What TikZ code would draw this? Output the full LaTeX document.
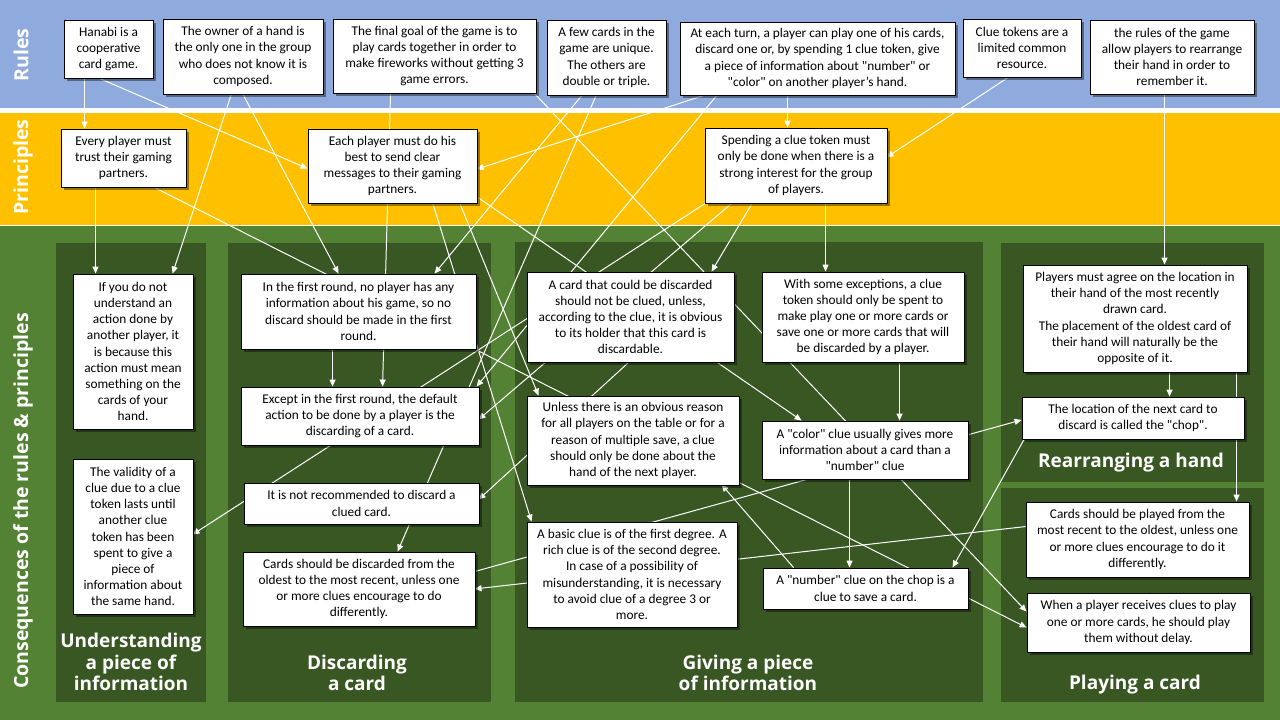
\documentclass[tikz,border=0pt]{standalone}
\usepackage{fontspec}
\setmainfont{Carlito}
\newfontfamily\headfont{Open Sans}
\usetikzlibrary{arrows.meta,shadows,calc}
\pgfdeclarelayer{bg}
\pgfdeclarelayer{links}
\pgfsetlayers{bg,links,main}
\definecolor{rulesblue}{HTML}{8FAADC}
\definecolor{princgold}{HTML}{FFC000}
\definecolor{consgreen}{HTML}{548235}
\definecolor{paneldark}{HTML}{385723}
\newcommand\dq{\textquotedbl}
\begin{document}
\begin{tikzpicture}[x=1pt,y=-1pt,
  box/.style={draw=black, line width=0.9pt, fill=white, align=center, inner sep=2pt,
    font=\fontsize{13.33}{16.2}\selectfont,
    drop shadow={shadow xshift=2.5pt, shadow yshift=-2.5pt, opacity=0.4, fill=black}},
  conn/.style={draw=white, line width=1pt, -{Triangle[length=7pt,width=6pt]}},
  head/.style={text=white, align=center, inner sep=0pt, font=\headfont\bfseries\fontsize{19}{21.5}\selectfont},
  side/.style={text=white, rotate=90, inner sep=0pt, font=\headfont\bfseries\fontsize{19.5}{22}\selectfont},
  panel/.style={fill=paneldark}
]
\useasboundingbox (0,0) rectangle (1280,720);
\begin{pgfonlayer}{bg}
  \fill[rulesblue] (0,0) rectangle (1280,108);
  \fill[white] (0,108) rectangle (1280,113);
  \fill[princgold] (0,113) rectangle (1280,225);
  \fill[white] (0,225) rectangle (1280,226);
  \fill[consgreen] (0,226) rectangle (1280,720);
  \fill[panel] (56,243) rectangle (206,702);
  \fill[panel] (228,243) rectangle (491,702);
  \fill[panel] (515,242) rectangle (983,702);
  \fill[panel] (1001,243) rectangle (1264,482);
  \fill[panel] (1001,488) rectangle (1264,702);
\end{pgfonlayer}

% side labels
\node[side] (Lrules) at (21,55) {Rules};
\node[side] (Lprinc) at (23,167) {Principles};
\node[side] (Lcons) at (23,501) {Consequences of the rules \& principles};

% panel titles
\node[head] (T1) at (131,662) {Understanding\\a piece of\\information};
\node[head] (T2) at (357,673) {Discarding\\a card};
\node[head] (T3) at (748,673) {Giving a piece\\of information};
\node[head] (T4) at (1131,463) {Rearranging a hand};
\node[head] (T5) at (1135,685) {Playing a card};

% rules
\node[box, minimum width=89, minimum height=58] (R1) at (108.5,49) {Hanabi is a\\cooperative\\card game.};
\node[box, minimum width=160, minimum height=75] (R2) at (243,56.5) {The owner of a hand is\\the only one in the group\\who does not know it is\\composed.};
\node[box, minimum width=203, minimum height=74] (R3) at (434.5,56) {The final goal of the game is to\\play cards together in order to\\make fireworks without getting 3\\game errors.};
\node[box, minimum width=119, minimum height=75] (R4) at (606.5,57.5) {A few cards in the\\game are unique.\\The others are\\double or triple.};
\node[box, minimum width=275, minimum height=73] (R5) at (817.5,58.5) {At each turn, a player can play one of his cards,\\discard one or, by spending 1 clue token, give\\a piece of information about \dq number\dq{} or\\\dq color\dq{} on another player’s hand.};
\node[box, minimum width=118, minimum height=58] (R6) at (1022,48) {Clue tokens are a\\limited common\\resource.};
\node[box, minimum width=164, minimum height=74] (R7) at (1172,57) {the rules of the game\\allow players to rearrange\\their hand in order to\\remember it.};

% principles
\node[box, minimum width=125, minimum height=58] (P1) at (123.5,158) {Every player must\\trust their gaming\\partners.};
\node[box, minimum width=169, minimum height=74] (P2) at (392.5,166) {Each player must do his\\best to send clear\\messages to their gaming\\partners.};
\node[box, minimum width=182, minimum height=75] (P3) at (796,165.5) {Spending a clue token must\\only be done when there is a\\strong interest for the group\\of players.};

% consequences
\node[box, minimum width=120, minimum height=155] (C1) at (133,351.5) {If you do not\\understand an\\action done by\\another player, it\\is because this\\action must mean\\something on the\\cards of your\\hand.};
\node[box, minimum width=120, minimum height=155] (C2) at (133,536.5) {The validity of a\\clue due to a clue\\token lasts until\\another clue\\token has been\\spent to give a\\piece of\\information about\\the same hand.};
\node[box, minimum width=235, minimum height=75] (C3) at (358.5,311.5) {In the first round, no player has any\\information about his game, so no\\discard should be made in the first\\round.};
\node[box, minimum width=238, minimum height=58] (C4) at (360,416) {Except in the first round, the default\\action to be done by a player is the\\discarding of a card.};
\node[box, minimum width=235, minimum height=41] (C5) at (361.5,503.5) {It is not recommended to discard a\\clued card.};
\node[box, minimum width=232, minimum height=74] (C6) at (359,589) {Cards should be discarded from the\\oldest to the most recent, unless one\\or more clues encourage to do\\differently.};
\node[box, minimum width=207, minimum height=90] (C7) at (630.5,317) {A card that could be discarded\\should not be clued, unless,\\according to the clue, it is obvious\\to its holder that this card is\\discardable.};
\node[box, minimum width=202, minimum height=90] (C8) at (863,317) {With some exceptions, a clue\\token should only be spent to\\make play one or more cards or\\save one or more cards that will\\be discarded by a player.};
\node[box, minimum width=212, minimum height=89] (C9) at (633,440.5) {Unless there is an obvious reason\\for all players on the table or for a\\reason of multiple save, a clue\\should only be done about the\\hand of the next player.};
\node[box, minimum width=206, minimum height=58] (C10) at (865,450) {A \dq color\dq{} clue usually gives more\\information about a card than a\\\dq number\dq{} clue};
\node[box, minimum width=210, minimum height=105] (C11) at (632,574.5) {A basic clue is of the first degree. A\\rich clue is of the second degree.\\In case of a possibility of\\misunderstanding, it is necessary\\to avoid clue of a degree 3 or\\more.};
\node[box, minimum width=205, minimum height=41] (C12) at (865.5,588.5) {A \dq number\dq{} clue on the chop is a\\clue to save a card.};
\node[box, minimum width=224, minimum height=107] (C13) at (1135,318.5) {Players must agree on the location in\\their hand of the most recently\\drawn card.\\The placement of the oldest card of\\their hand will naturally be the\\opposite of it.};
\node[box, minimum width=222, minimum height=42] (C14) at (1133,418) {The location of the next card to\\discard is called the \dq chop\dq.};
\node[box, minimum width=223, minimum height=75] (C15) at (1137.5,539.5) {Cards should be played from the\\most recent to the oldest, unless one\\or more clues encourage to do it\\differently.};
\node[box, minimum width=223, minimum height=59] (C16) at (1138.5,622.5) {When a player receives clues to play\\one or more cards, he should play\\them without delay.};

\begin{pgfonlayer}{links}
  \draw[conn] ($(R1.north west)+(21,58)$) -- ($(P1.north west)+(24,0)$);
  \draw[conn] ($(R1.north west)+(34,58)$) -- ($(P2.north west)+(0,40)$);
  \draw[conn] ($(R2.north west)+(69,75)$) -- ($(C1.north west)+(100,0)$);
  \draw[conn] ($(R2.north west)+(80,75)$) -- ($(C3.north west)+(98,0)$);
  \draw[conn] ($(R3.north west)+(58,74)$) -- ($(C4.north west)+(142,0)$);
  \draw[conn] ($(R3.north west)+(201,74)$) -- ($(C16.north west)+(0,19)$);
  \draw[conn] ($(R4.north west)+(36,75)$) -- ($(C3.north west)+(194,0)$);
  \draw[conn] ($(R4.north west)+(50,75)$) -- ($(C6.north west)+(155,0)$);
  \draw[conn] ($(R5.north west)+(27,73)$) -- ($(P2.north west)+(169,40.6)$);
  \draw[conn] ($(R5.north west)+(38,73)$) -- ($(C4.north west)+(236,0)$);
  \draw[conn] ($(R5.north west)+(108,73)$) -- ($(P3.north west)+(83,0)$);
  \draw[conn] ($(R6.north west)+(47,58)$) -- ($(P3.north west)+(182,29.7)$);
  \draw[conn] ($(R7.north west)+(75,74)$) -- ($(C13.north west)+(142,0)$);
  \draw[conn] ($(P1.north west)+(35,58)$) -- ($(C1.north west)+(23,0)$);
  \draw[conn] ($(P1.north west)+(92,58)$) -- ($(C16.north west)+(0,35)$);
  \draw[conn] ($(P2.north west)+(152,74)$) -- ($(C9.north west)+(12,0)$);
  \draw[conn] ($(P2.north west)+(169,68)$) -- ($(C10.north west)+(40,0)$);
  \draw[conn] ($(P2.north west)+(125,74)$) -- ($(C11.north west)+(5,0)$);
  \draw[conn] ($(P3.north west)+(2,75)$) -- ($(C2.north west)+(120,76)$);
  \draw[conn] ($(P3.north west)+(28,75)$) -- ($(C4.north west)+(238,33)$);
  \draw[conn] ($(P3.north west)+(48,75)$) -- ($(C7.north west)+(185,0)$);
  \draw[conn] ($(P3.north west)+(121,75)$) -- ($(C8.north west)+(64,0)$);
  \draw[conn] ($(C3.north west)+(92,75)$) -- ($(C4.north west)+(92,0)$);
  \draw[conn] ($(C7.north west)+(103,90)$) -- ($(C5.north west)+(235,17)$);
  \draw[conn] ($(C8.north west)+(138,90)$) -- ($(C10.north west)+(138,0)$);
  \draw[conn] ($(C10.north west)+(88,58)$) -- ($(C12.north west)+(87,0)$);
  \draw[conn] ($(C12.north west)+(31,0)$) -- ($(C9.north west)+(195,89)$);
  \draw[conn] ($(C14.north west)+(3,42)$) -- ($(C12.north west)+(190,0)$);
  \draw[conn] ($(C13.north west)+(147,107)$) -- ($(C14.north west)+(148,0)$);
  \draw[conn] ($(C13.north west)+(214,107)$) -- ($(C15.north west)+(211,0)$);
  \draw[conn] ($(C6.north west)+(232,20)$) -- ($(C14.north west)+(0,23.4)$);
  \draw[conn] ($(C15.north west)+(0,25)$) -- ($(C6.north west)+(232,37.4)$);
\end{pgfonlayer}
\end{tikzpicture}
\end{document}
